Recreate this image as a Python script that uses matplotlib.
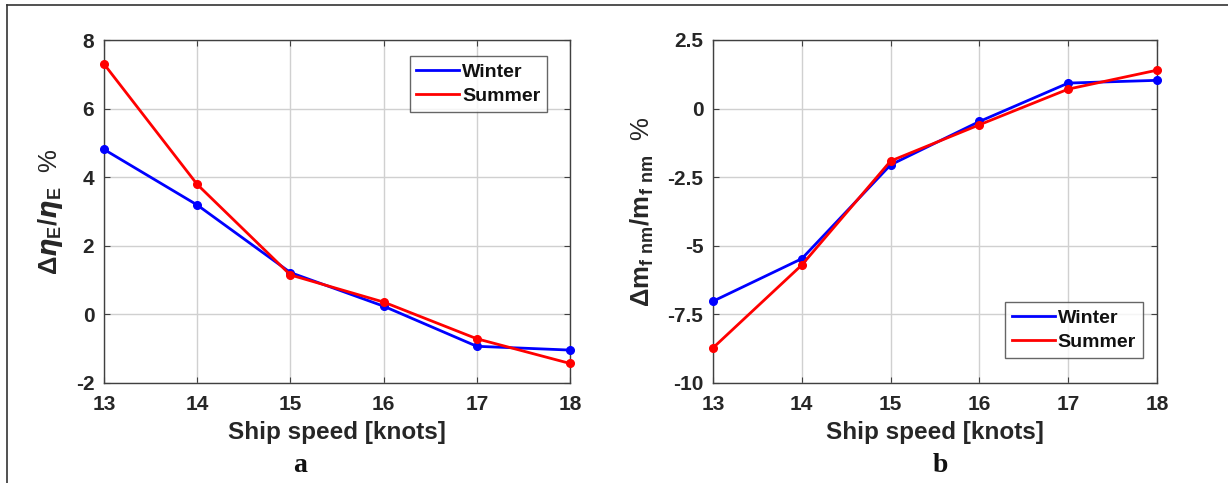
import matplotlib as mpl
import matplotlib.pyplot as plt
from matplotlib.lines import Line2D

mpl.rcParams['font.family'] = ['Liberation Sans', 'DejaVu Sans']
mpl.rcParams['font.weight'] = 'bold'
mpl.rcParams['axes.unicode_minus'] = False
mpl.rcParams['mathtext.fontset'] = 'custom'
mpl.rcParams['mathtext.rm'] = 'Liberation Sans:bold'
mpl.rcParams['mathtext.bf'] = 'Liberation Sans:bold'
mpl.rcParams['mathtext.it'] = 'DejaVu Sans:italic'

speed = [13, 14, 15, 16, 17, 18]
eff_winter = [4.81, 3.19, 1.22, 0.24, -0.93, -1.04]
eff_summer = [7.30, 3.79, 1.15, 0.36, -0.71, -1.43]
fuel_winter = [-7.02, -5.47, -2.05, -0.47, 0.93, 1.03]
fuel_summer = [-8.72, -5.70, -1.91, -0.59, 0.71, 1.40]

grid_c = '#d0d0d0'
frame_c = '#404040'
text_c = '#262626'


def style_axes(ax):
    ax.grid(True, color=grid_c, linewidth=1.0)
    ax.set_axisbelow(True)
    for s in ax.spines.values():
        s.set_color(frame_c)
        s.set_linewidth(1.0)
    ax.tick_params(direction='in', length=4, color=frame_c, labelsize=15,
                   labelcolor=text_c, top=True, right=True, pad=9)
    ax.tick_params(axis='y', pad=7)
    for lab in ax.get_xticklabels() + ax.get_yticklabels():
        lab.set_fontweight('bold')
    ax.set_xlim(13, 18)
    ax.set_xticks(speed)
    ax.set_xlabel('Ship speed [knots]', fontsize=17.5, fontweight='bold', color=text_c, labelpad=5)


def style_legend(leg):
    leg.get_frame().set_linewidth(1.0)
    for h in leg.get_lines():
        h.set_marker('')
    for t in leg.get_texts():
        t.set_fontweight('bold')
        t.set_color('#111111')


def draw_series(ax, winter, summer):
    ax.plot(speed, winter, '-o', color='#0000ff', lw=2, ms=5.5, label='Winter', clip_on=False, zorder=3)
    ax.plot(speed, summer, '-o', color='#ff0000', lw=2, ms=5.5, label='Summer', clip_on=False, zorder=4)


leg_kw = dict(fontsize=14, frameon=True, fancybox=False, edgecolor=frame_c, handlelength=2.2,
              handletextpad=0.15, borderpad=0.35, labelspacing=0.35, borderaxespad=0)

fig = plt.figure(figsize=(12.28, 4.83), dpi=100)

ax1 = fig.add_axes([104 / 1228, 1 - 383 / 483, 466 / 1228, 343 / 483])
draw_series(ax1, eff_winter, eff_summer)
ax1.set_ylim(-2, 8)
ax1.set_yticks([-2, 0, 2, 4, 6, 8])
style_axes(ax1)
ax1.set_ylabel(r'$\Delta\eta_{\mathbf{E}}/\eta_{\mathbf{E}}$  %', fontsize=18.5, color=text_c, labelpad=8)
leg1 = ax1.legend(loc='upper right', bbox_to_anchor=(0.951, 0.953), **leg_kw)
style_legend(leg1)

ax2 = fig.add_axes([713 / 1228, 1 - 383 / 483, 444 / 1228, 343 / 483])
draw_series(ax2, fuel_winter, fuel_summer)
ax2.set_ylim(-10, 2.5)
ax2.set_yticks([-10, -7.5, -5, -2.5, 0, 2.5])
ax2.set_yticklabels(['-10', '-7.5', '-5', '-2.5', '0', '2.5'])
style_axes(ax2)
ax2.set_ylabel(r'$\Delta\mathbf{m}_{\mathbf{f\ nm}}/\mathbf{m}_{\mathbf{f\ nm}}$  %',
               fontsize=18.5, color=text_c, labelpad=8)
leg2 = ax2.legend(loc='lower right', bbox_to_anchor=(0.968, 0.073), **leg_kw)
style_legend(leg2)

# panel letters
serif = ['Liberation Serif', 'DejaVu Serif']
fig.text(300 / 1228, 1 - 466 / 483, 'a', fontsize=20, fontweight='bold',
         family=serif, ha='center', va='center', color='#111111')
fig.text(940 / 1228, 1 - 466 / 483, 'b', fontsize=20, fontweight='bold',
         family=serif, ha='center', va='center', color='#111111')

# outer frame (top and left edges only)
fig.add_artist(Line2D([0.0057, 1.0], [0.9896, 0.9896], color='#333333', lw=1.2,
                      transform=fig.transFigure))
fig.add_artist(Line2D([0.0057, 0.0057], [0.0, 0.9896], color='#333333', lw=1.2,
                      transform=fig.transFigure))

fig.savefig('out.png', dpi=100)
